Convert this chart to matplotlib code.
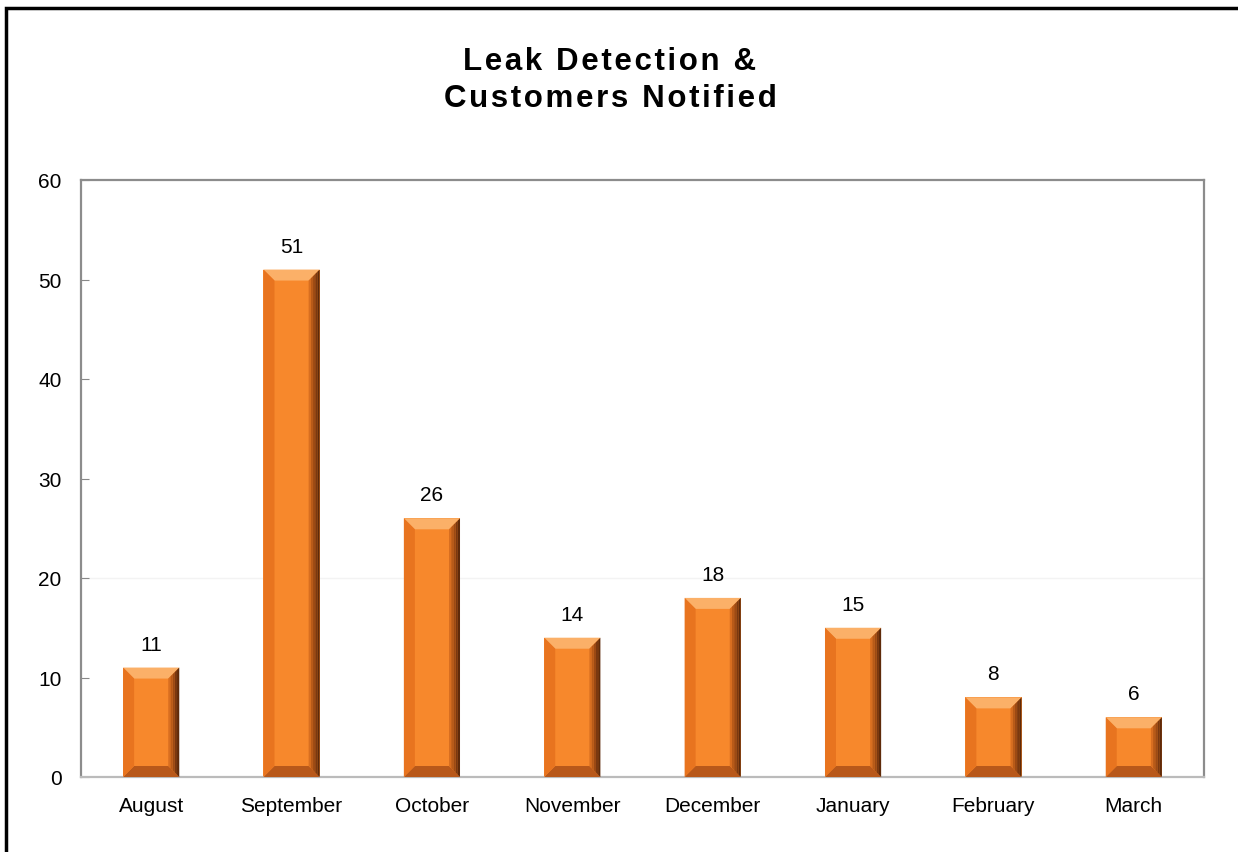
import numpy as np
import matplotlib
matplotlib.use("Agg")
import matplotlib.pyplot as plt
from matplotlib.patches import Polygon, Rectangle

plt.rcParams['font.family'] = ['Liberation Sans', 'DejaVu Sans']

months = ["August", "September", "October", "November", "December",
          "January", "February", "March"]
leaks = [11, 51, 26, 14, 18, 15, 8, 6]
title_lines = ["Leak Detection &", "Customers Notified"]

fig = plt.figure(figsize=(12.38, 8.53), dpi=100)
ax = fig.add_axes([81 / 1238, 1 - 778 / 853, (1204 - 81) / 1238, (778 - 181) / 853])

# outer chart border (left and top visible)
fig.patches.append(Rectangle((6 / 1238, -0.1), 1.2, 1.1 - 9 / 853, transform=fig.transFigure,
                             fill=False, edgecolor='black', linewidth=2.5, zorder=0))

x = np.arange(len(months))
width = 0.4
ax.set_xlim(-0.5, len(months) - 0.5)
ax.set_ylim(0, 60)

# bevel size: ~11 px in both directions
bx = 11 / 140.4
by = 11 / 99.5 * 10

main = '#F7882C'
for xi, v in zip(x, leaks):
    l, r = xi - width / 2, xi + width / 2
    ax.add_patch(Rectangle((l, 0), width, v, facecolor=main, edgecolor='none', zorder=2))
    # top bevel
    ax.add_patch(Polygon([(l, v), (r, v), (r - bx, v - by), (l + bx, v - by)],
                         facecolor='#FBB068', edgecolor='none', zorder=3))
    # bottom bevel
    ax.add_patch(Polygon([(l, 0), (r, 0), (r - bx, by), (l + bx, by)],
                         facecolor='#B8581A', edgecolor='none', zorder=3))
    # left bevel
    ax.add_patch(Polygon([(l, 0), (l + bx, by), (l + bx, v - by), (l, v)],
                         facecolor='#E8741F', edgecolor='none', zorder=3))
    # right bevel with gradient-ish strips
    shades = ['#D86E20', '#B85A18', '#9C4A14', '#7A3810', '#5E2A0A']
    n = len(shades)
    for k, c in enumerate(shades):
        x0 = r - bx + bx * k / n
        x1 = r - bx + bx * (k + 1) / n
        f0 = k / n
        f1 = (k + 1) / n
        ax.add_patch(Polygon([(x0, by * (1 - f0)), (x1, by * (1 - f1)),
                              (x1, v - by * (1 - f1)), (x0, v - by * (1 - f0))],
                             facecolor=c, edgecolor='none', zorder=3))
    ax.text(xi, v + 1.4, str(v), ha='center', va='bottom', fontsize=15, color='black')

ax.axhline(20, color='#F3F3F3', linewidth=1, zorder=1)

ax.set_xticks(x)
ax.set_xticklabels(months, fontsize=15)
ax.set_yticks(range(0, 61, 10))
ax.tick_params(axis='y', labelsize=15, direction='in', length=6, color='#888888', pad=14)
ax.tick_params(axis='x', length=0, pad=14)
for s in ax.spines.values():
    s.set_color('#8C8C8C')
    s.set_linewidth(1.6)
ax.spines['bottom'].set_color('#BBBBBB')

# letter-spaced title
for line, ypix in zip(title_lines, [62, 99]):
    fig.text(610 / 1238, 1 - ypix / 853, "\u200a".join(line), ha='center', va='center',
             fontsize=22.5, fontweight='bold')

fig.savefig("out.png", dpi=100)
